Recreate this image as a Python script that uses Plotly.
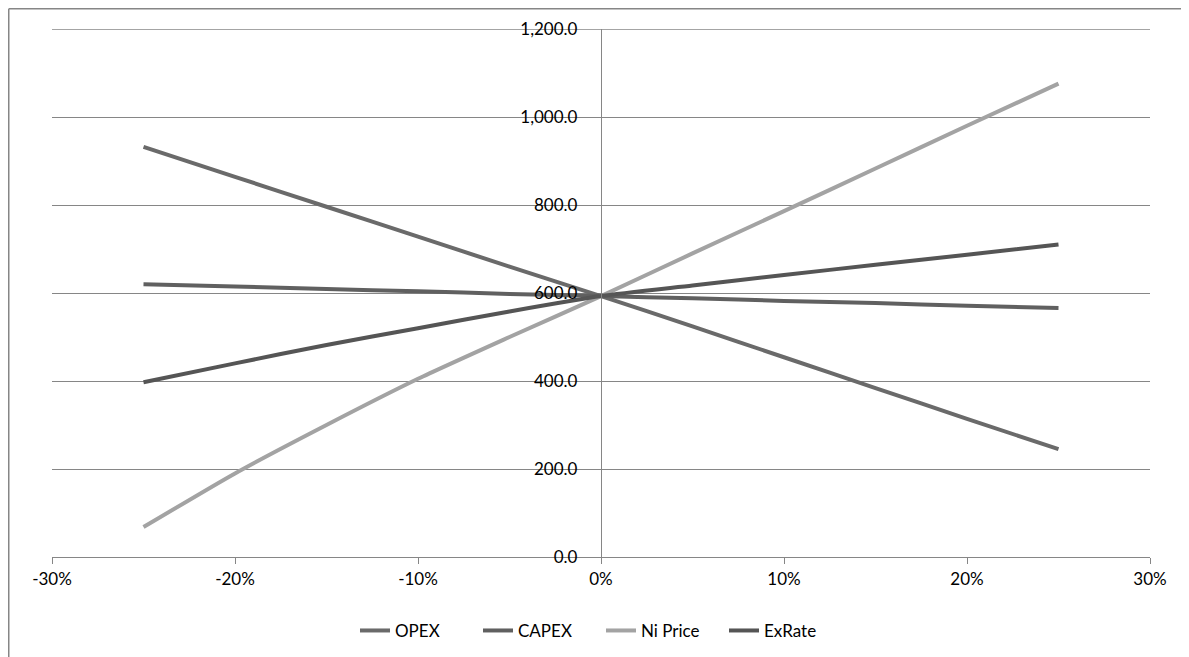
import plotly.graph_objects as go

x_pct = [-0.25, -0.20, -0.15, -0.10, -0.05, 0.0, 0.05, 0.10, 0.15, 0.20, 0.25]
opex = [932, 864, 796, 728, 660, 593, 524, 454, 384, 314, 245]
capex = [620, 615, 609, 604, 598, 593, 588, 582, 577, 571, 566]
ni_price = [68, 190, 300, 405, 500, 593, 690, 786, 883, 980, 1076]
exrate = [397, 440, 482, 520, 558, 593, 617, 641, 664, 687, 710]

series = [
    ("OPEX", opex, "#6a6a6a"),
    ("CAPEX", capex, "#606060"),
    ("Ni Price", ni_price, "#a3a3a3"),
    ("ExRate", exrate, "#555555"),
]

x_ticks = [-0.3, -0.2, -0.1, 0.0, 0.1, 0.2, 0.3]
x_labels = ["-30%", "-20%", "-10%", "0%", "10%", "20%", "30%"]
y_ticks = [0, 200, 400, 600, 800, 1000, 1200]
y_labels = ["0.0", "200.0", "400.0", "600.0", "800.0", "1,000.0", "1,200.0"]

GRID = "#868686"

fig = go.Figure()
for name, vals, col in series:
    fig.add_trace(go.Scatter(x=x_pct, y=vals, name=name, mode="lines",
                             line=dict(color=col, width=4, shape="spline", smoothing=0.6)))

# page is offset by the 8px body margin
W, H = 1181, 649
L, R, T, B = 44, 1142, 21, 549
fig.update_layout(
    width=W, height=H,
    margin=dict(l=L, r=W - R, t=T, b=H - B, autoexpand=False),
    paper_bgcolor="white", plot_bgcolor="white",
    font=dict(family="Lato, 'Open Sans', sans-serif", size=17, color="#000000"),
    showlegend=True,
    legend=dict(orientation="h", x=0.5, xanchor="center", y=-0.14, yanchor="middle",
                font=dict(size=17), itemwidth=30, tracegroupgap=0,
                entrywidth=78, entrywidthmode="pixels",
                bgcolor="rgba(0,0,0,0)"),
    xaxis=dict(range=[-0.3, 0.3], tickvals=x_ticks, ticktext=x_labels,
               showgrid=False, zeroline=False, showline=True, linecolor=GRID,
               linewidth=1.3, ticks="outside", ticklen=6, tickcolor=GRID,
               fixedrange=True),
    yaxis=dict(range=[0, 1200], tickvals=y_ticks, ticktext=y_labels,
               showgrid=True, gridcolor=GRID, gridwidth=1.3,
               zeroline=False, showline=True, linecolor=GRID, linewidth=1.3,
               anchor="free", position=0.5, ticks="", ticklabelstandoff=20,
               fixedrange=True),
)

# top gridline (at the plot edge)
fig.add_shape(type="line", xref="paper", yref="y", x0=0, x1=1, y0=1200, y1=1200,
              line=dict(color=GRID, width=1.3), layer="below")

# outer chart border (left and top edges visible)
px_to_xp = lambda px: (px - L) / (R - L)
py_to_yp = lambda py: (B - py) / (B - T)
fig.add_shape(type="line", xref="paper", yref="paper",
              x0=px_to_xp(0.75), x1=px_to_xp(1200), y0=py_to_yp(0.75), y1=py_to_yp(0.75),
              line=dict(color=GRID, width=1.5))
fig.add_shape(type="line", xref="paper", yref="paper",
              x0=px_to_xp(0.75), x1=px_to_xp(0.75), y0=py_to_yp(0.75), y1=py_to_yp(700),
              line=dict(color=GRID, width=1.5))

fig.write_html("out.html")
